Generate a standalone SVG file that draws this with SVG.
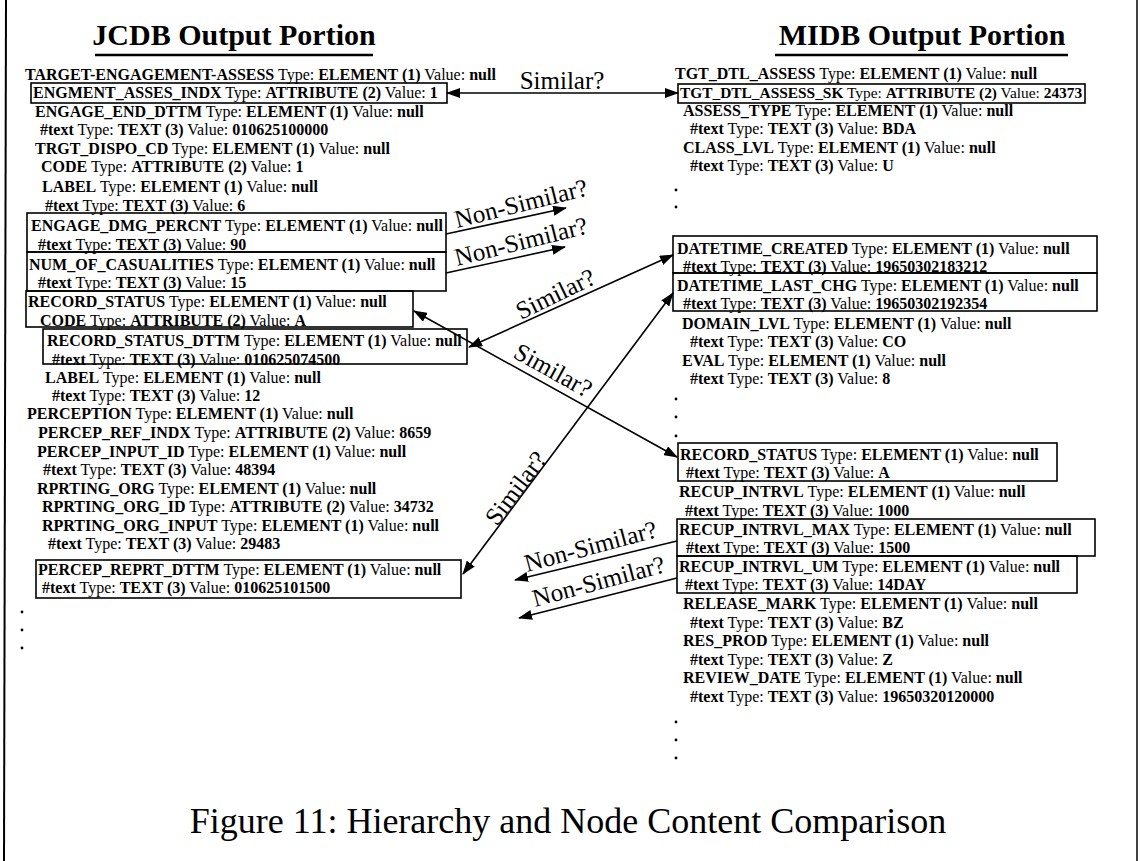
<svg xmlns="http://www.w3.org/2000/svg" width="1141" height="861" viewBox="0 0 1141 861">
<style>
.t{font-family:"Liberation Serif","Times New Roman",serif;font-size:16px;fill:#000}
.b{font-weight:bold}
.ttl{font-family:"Liberation Serif","Times New Roman",serif;font-size:30px;font-weight:bold;fill:#000}
.lbl{font-family:"Liberation Serif","Times New Roman",serif;font-size:25px;fill:#000}
.cap{font-family:"Liberation Serif","Times New Roman",serif;font-size:36px;fill:#000}
.box{fill:none;stroke:#000;stroke-width:1.6}
.con{fill:none;stroke:#000;stroke-width:1.6}
.dot{fill:#000}
</style>
<defs>
<marker id="ah" viewBox="0 0 14 10" refX="13" refY="5" markerWidth="14" markerHeight="10" markerUnits="userSpaceOnUse" orient="auto-start-reverse"><path d="M0,0 L14,5 L0,10 z" fill="#000"/></marker>
</defs>
<rect width="1141" height="861" fill="#fff"/>
<g id="frame">
<line x1="6" y1="0" x2="4" y2="861" stroke="#000" stroke-width="2"/>
<line x1="1137" y1="0" x2="1137" y2="861" stroke="#000" stroke-width="1.5"/>
</g>
<g id="titles">
<text class="ttl" x="234" y="45" text-anchor="middle">JCDB Output Portion</text>
<line x1="95" y1="55" x2="373" y2="55" stroke="#000" stroke-width="2.5"/>
<text class="ttl" x="922" y="45" text-anchor="middle">MIDB Output Portion</text>
<line x1="775" y1="55" x2="1068" y2="55" stroke="#000" stroke-width="2.5"/>
</g>
<!-- Left column -->
<g id="L00"><text class="t" x="25" y="80"><tspan class="b">TARGET-ENGAGEMENT-ASSESS</tspan> Type: <tspan class="b">ELEMENT (1)</tspan> Value: <tspan class="b">null</tspan></text></g>
<g id="L01"><rect class="box" x="31" y="83" width="416" height="20"/><text class="t" x="33" y="98"><tspan class="b">ENGMENT_ASSES_INDX</tspan> Type: <tspan class="b">ATTRIBUTE (2)</tspan> Value: <tspan class="b">1</tspan></text></g>
<g id="L02"><text class="t" x="35" y="117"><tspan class="b">ENGAGE_END_DTTM</tspan> Type: <tspan class="b">ELEMENT (1)</tspan> Value: <tspan class="b">null</tspan></text></g>
<g id="L03"><text class="t" x="40" y="135"><tspan class="b">#text</tspan> Type: <tspan class="b">TEXT (3)</tspan> Value: <tspan class="b">010625100000</tspan></text></g>
<g id="L04"><text class="t" x="35" y="154"><tspan class="b">TRGT_DISPO_CD</tspan> Type: <tspan class="b">ELEMENT (1)</tspan> Value: <tspan class="b">null</tspan></text></g>
<g id="L05"><text class="t" x="41" y="172"><tspan class="b">CODE</tspan> Type: <tspan class="b">ATTRIBUTE (2)</tspan> Value: <tspan class="b">1</tspan></text></g>
<g id="L06"><text class="t" x="42" y="192"><tspan class="b">LABEL</tspan> Type: <tspan class="b">ELEMENT (1)</tspan> Value: <tspan class="b">null</tspan></text></g>
<g id="L07"><text class="t" x="45" y="211"><tspan class="b">#text</tspan> Type: <tspan class="b">TEXT (3)</tspan> Value: <tspan class="b">6</tspan></text></g>
<g id="L08"><rect class="box" x="27" y="213" width="419" height="39"/><text class="t" x="31" y="231"><tspan class="b">ENGAGE_DMG_PERCNT</tspan> Type: <tspan class="b">ELEMENT (1)</tspan> Value: <tspan class="b">null</tspan></text><text class="t" x="38" y="250"><tspan class="b">#text</tspan> Type: <tspan class="b">TEXT (3)</tspan> Value: <tspan class="b">90</tspan></text></g>
<g id="L10"><rect class="box" x="27" y="252" width="419" height="39"/><text class="t" x="29" y="270"><tspan class="b">NUM_OF_CASUALITIES</tspan> Type: <tspan class="b">ELEMENT (1)</tspan> Value: <tspan class="b">null</tspan></text><text class="t" x="38" y="288"><tspan class="b">#text</tspan> Type: <tspan class="b">TEXT (3)</tspan> Value: <tspan class="b">15</tspan></text></g>
<g id="L12"><rect class="box" x="26" y="291" width="387" height="36"/><text class="t" x="28" y="307"><tspan class="b">RECORD_STATUS</tspan> Type: <tspan class="b">ELEMENT (1)</tspan> Value: <tspan class="b">null</tspan></text><text class="t" x="40" y="326"><tspan class="b">CODE</tspan> Type: <tspan class="b">ATTRIBUTE (2)</tspan> Value: <tspan class="b">A</tspan></text></g>
<g id="L14"><rect class="box" x="43" y="329" width="424" height="35"/><text class="t" x="47" y="346"><tspan class="b">RECORD_STATUS_DTTM</tspan> Type: <tspan class="b">ELEMENT (1)</tspan> Value: <tspan class="b">null</tspan></text><text class="t" x="52" y="365"><tspan class="b">#text</tspan> Type: <tspan class="b">TEXT (3)</tspan> Value: <tspan class="b">010625074500</tspan></text></g>
<g id="L16"><text class="t" x="45" y="383"><tspan class="b">LABEL</tspan> Type: <tspan class="b">ELEMENT (1)</tspan> Value: <tspan class="b">null</tspan></text></g>
<g id="L17"><text class="t" x="52" y="401"><tspan class="b">#text</tspan> Type: <tspan class="b">TEXT (3)</tspan> Value: <tspan class="b">12</tspan></text></g>
<g id="L18"><text class="t" x="27" y="419"><tspan class="b">PERCEPTION</tspan> Type: <tspan class="b">ELEMENT (1)</tspan> Value: <tspan class="b">null</tspan></text></g>
<g id="L19"><text class="t" x="38" y="438"><tspan class="b">PERCEP_REF_INDX</tspan> Type: <tspan class="b">ATTRIBUTE (2)</tspan> Value: <tspan class="b">8659</tspan></text></g>
<g id="L20"><text class="t" x="37" y="457"><tspan class="b">PERCEP_INPUT_ID</tspan> Type: <tspan class="b">ELEMENT (1)</tspan> Value: <tspan class="b">null</tspan></text></g>
<g id="L21"><text class="t" x="43" y="475"><tspan class="b">#text</tspan> Type: <tspan class="b">TEXT (3)</tspan> Value: <tspan class="b">48394</tspan></text></g>
<g id="L22"><text class="t" x="37" y="494"><tspan class="b">RPRTING_ORG</tspan> Type: <tspan class="b">ELEMENT (1)</tspan> Value: <tspan class="b">null</tspan></text></g>
<g id="L23"><text class="t" x="42" y="512"><tspan class="b">RPRTING_ORG_ID</tspan> Type: <tspan class="b">ATTRIBUTE (2)</tspan> Value: <tspan class="b">34732</tspan></text></g>
<g id="L24"><text class="t" x="42" y="531"><tspan class="b">RPRTING_ORG_INPUT</tspan> Type: <tspan class="b">ELEMENT (1)</tspan> Value: <tspan class="b">null</tspan></text></g>
<g id="L25"><text class="t" x="48" y="549"><tspan class="b">#text</tspan> Type: <tspan class="b">TEXT (3)</tspan> Value: <tspan class="b">29483</tspan></text></g>
<g id="L26"><rect class="box" x="36" y="560" width="425" height="38"/><text class="t" x="38" y="575"><tspan class="b">PERCEP_REPRT_DTTM</tspan> Type: <tspan class="b">ELEMENT (1)</tspan> Value: <tspan class="b">null</tspan></text><text class="t" x="42" y="593"><tspan class="b">#text</tspan> Type: <tspan class="b">TEXT (3)</tspan> Value: <tspan class="b">010625101500</tspan></text></g>
<g id="Ldots"><circle class="dot" cx="22" cy="612" r="1.4"/><circle class="dot" cx="22" cy="630" r="1.4"/><circle class="dot" cx="22" cy="648" r="1.4"/></g>
<!-- Right column -->
<g id="R00"><text class="t" x="675" y="79"><tspan class="b">TGT_DTL_ASSESS</tspan> Type: <tspan class="b">ELEMENT (1)</tspan> Value: <tspan class="b">null</tspan></text></g>
<g id="R01"><rect class="box" x="678" y="84" width="407" height="19"/><text class="t" x="680" y="98" style="font-size:15.4px"><tspan class="b">TGT_DTL_ASSESS_SK</tspan> Type: <tspan class="b">ATTRIBUTE (2)</tspan> Value: <tspan class="b">24373</tspan></text></g>
<g id="R02"><text class="t" x="683" y="116"><tspan class="b">ASSESS_TYPE</tspan> Type: <tspan class="b">ELEMENT (1)</tspan> Value: <tspan class="b">null</tspan></text></g>
<g id="R03"><text class="t" x="690" y="134"><tspan class="b">#text</tspan> Type: <tspan class="b">TEXT (3)</tspan> Value: <tspan class="b">BDA</tspan></text></g>
<g id="R04"><text class="t" x="683" y="153"><tspan class="b">CLASS_LVL</tspan> Type: <tspan class="b">ELEMENT (1)</tspan> Value: <tspan class="b">null</tspan></text></g>
<g id="R05"><text class="t" x="690" y="171"><tspan class="b">#text</tspan> Type: <tspan class="b">TEXT (3)</tspan> Value: <tspan class="b">U</tspan></text></g>
<g id="Rdots1"><circle class="dot" cx="676" cy="190" r="1.4"/><circle class="dot" cx="676" cy="207" r="1.4"/></g>
<g id="R06"><rect class="box" x="673" y="236" width="424" height="37"/><rect class="box" x="673" y="273" width="424" height="38"/><text class="t" x="677" y="254"><tspan class="b">DATETIME_CREATED</tspan> Type: <tspan class="b">ELEMENT (1)</tspan> Value: <tspan class="b">null</tspan></text><text class="t" x="683" y="272"><tspan class="b">#text</tspan> Type: <tspan class="b">TEXT (3)</tspan> Value: <tspan class="b">19650302183212</tspan></text><text class="t" x="677" y="291"><tspan class="b">DATETIME_LAST_CHG</tspan> Type: <tspan class="b">ELEMENT (1)</tspan> Value: <tspan class="b">null</tspan></text><text class="t" x="683" y="309"><tspan class="b">#text</tspan> Type: <tspan class="b">TEXT (3)</tspan> Value: <tspan class="b">19650302192354</tspan></text></g>
<g id="R10"><text class="t" x="682" y="329"><tspan class="b">DOMAIN_LVL</tspan> Type: <tspan class="b">ELEMENT (1)</tspan> Value: <tspan class="b">null</tspan></text></g>
<g id="R11"><text class="t" x="690" y="347"><tspan class="b">#text</tspan> Type: <tspan class="b">TEXT (3)</tspan> Value: <tspan class="b">CO</tspan></text></g>
<g id="R12"><text class="t" x="682" y="366"><tspan class="b">EVAL</tspan> Type: <tspan class="b">ELEMENT (1)</tspan> Value: <tspan class="b">null</tspan></text></g>
<g id="R13"><text class="t" x="690" y="384"><tspan class="b">#text</tspan> Type: <tspan class="b">TEXT (3)</tspan> Value: <tspan class="b">8</tspan></text></g>
<g id="Rdots2"><circle class="dot" cx="676" cy="399" r="1.4"/><circle class="dot" cx="676" cy="417" r="1.4"/><circle class="dot" cx="676" cy="436" r="1.4"/></g>
<g id="R14"><rect class="box" x="678" y="443" width="379" height="38"/><text class="t" x="680" y="460"><tspan class="b">RECORD_STATUS</tspan> Type: <tspan class="b">ELEMENT (1)</tspan> Value: <tspan class="b">null</tspan></text><text class="t" x="686" y="478"><tspan class="b">#text</tspan> Type: <tspan class="b">TEXT (3)</tspan> Value: <tspan class="b">A</tspan></text></g>
<g id="R16"><text class="t" x="679" y="497"><tspan class="b">RECUP_INTRVL</tspan> Type: <tspan class="b">ELEMENT (1)</tspan> Value: <tspan class="b">null</tspan></text></g>
<g id="R17"><text class="t" x="685" y="516"><tspan class="b">#text</tspan> Type: <tspan class="b">TEXT (3)</tspan> Value: <tspan class="b">1000</tspan></text></g>
<g id="R18"><rect class="box" x="677" y="519" width="418" height="37"/><text class="t" x="679" y="535"><tspan class="b">RECUP_INTRVL_MAX</tspan> Type: <tspan class="b">ELEMENT (1)</tspan> Value: <tspan class="b">null</tspan></text><text class="t" x="686" y="553"><tspan class="b">#text</tspan> Type: <tspan class="b">TEXT (3)</tspan> Value: <tspan class="b">1500</tspan></text></g>
<g id="R20"><rect class="box" x="677" y="556" width="400" height="37"/><text class="t" x="679" y="572"><tspan class="b">RECUP_INTRVL_UM</tspan> Type: <tspan class="b">ELEMENT (1)</tspan> Value: <tspan class="b">null</tspan></text><text class="t" x="685" y="590"><tspan class="b">#text</tspan> Type: <tspan class="b">TEXT (3)</tspan> Value: <tspan class="b">14DAY</tspan></text></g>
<g id="R22"><text class="t" x="683" y="609"><tspan class="b">RELEASE_MARK</tspan> Type: <tspan class="b">ELEMENT (1)</tspan> Value: <tspan class="b">null</tspan></text></g>
<g id="R23"><text class="t" x="690" y="628"><tspan class="b">#text</tspan> Type: <tspan class="b">TEXT (3)</tspan> Value: <tspan class="b">BZ</tspan></text></g>
<g id="R24"><text class="t" x="683" y="646"><tspan class="b">RES_PROD</tspan> Type: <tspan class="b">ELEMENT (1)</tspan> Value: <tspan class="b">null</tspan></text></g>
<g id="R25"><text class="t" x="690" y="665"><tspan class="b">#text</tspan> Type: <tspan class="b">TEXT (3)</tspan> Value: <tspan class="b">Z</tspan></text></g>
<g id="R26"><text class="t" x="683" y="683"><tspan class="b">REVIEW_DATE</tspan> Type: <tspan class="b">ELEMENT (1)</tspan> Value: <tspan class="b">null</tspan></text></g>
<g id="R27"><text class="t" x="690" y="702"><tspan class="b">#text</tspan> Type: <tspan class="b">TEXT (3)</tspan> Value: <tspan class="b">19650320120000</tspan></text></g>
<g id="Rdots3"><circle class="dot" cx="676" cy="722" r="1.4"/><circle class="dot" cx="676" cy="740" r="1.4"/><circle class="dot" cx="676" cy="758" r="1.4"/></g>
<!-- Connectors -->
<g id="connectors">
<line class="con" x1="447" y1="93" x2="678" y2="93" marker-start="url(#ah)" marker-end="url(#ah)"/>
<line class="con" x1="446" y1="234" x2="566" y2="208" marker-end="url(#ah)"/>
<line class="con" x1="446" y1="273" x2="565" y2="247" marker-end="url(#ah)"/>
<line class="con" x1="469" y1="347" x2="673" y2="255" marker-start="url(#ah)" marker-end="url(#ah)"/>
<line class="con" x1="414" y1="311" x2="677" y2="457" marker-start="url(#ah)" marker-end="url(#ah)"/>
<line class="con" x1="673" y1="293" x2="463" y2="574" marker-start="url(#ah)" marker-end="url(#ah)"/>
<line class="con" x1="677" y1="541" x2="515" y2="580" marker-end="url(#ah)"/>
<line class="con" x1="677" y1="578" x2="519" y2="618" marker-end="url(#ah)"/>
</g>
<g id="labels">
<text class="lbl" x="562" y="89" text-anchor="middle">Similar?</text>
<text class="lbl" transform="translate(457,228) rotate(-14)">Non-Similar?</text>
<text class="lbl" transform="translate(457,266) rotate(-14)">Non-Similar?</text>
<text class="lbl" transform="translate(521,320) rotate(-26)">Similar?</text>
<text class="lbl" transform="translate(512,357) rotate(29)">Similar?</text>
<text class="lbl" transform="translate(497,527) rotate(-53)">Similar?</text>
<text class="lbl" transform="translate(527,572) rotate(-15)">Non-Similar?</text>
<text class="lbl" transform="translate(535,607) rotate(-15)">Non-Similar?</text>
</g>
<g id="caption">
<text class="cap" x="568" y="833" text-anchor="middle">Figure 11: Hierarchy and Node Content Comparison</text>
</g>
</svg>
